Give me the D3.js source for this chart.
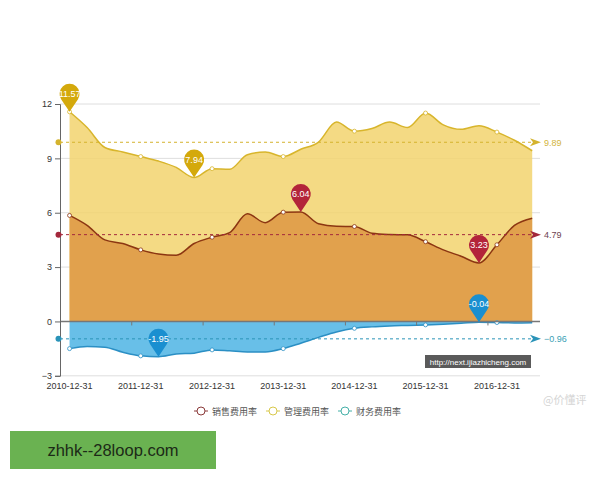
<!DOCTYPE html>
<html>
<head>
<meta charset="utf-8">
<script src="https://cdn.jsdelivr.net/npm/d3@7"></script>
<style>
    body { margin: 0; background: #fff; }
    svg { display: block; font-family: "Liberation Sans", Arial, sans-serif; }
</style>
</head>
<body>
<div id="chart"></div>
<script>

// quarterly report dates
const quarters = [
    "2010-12-31", "2011-03-31", "2011-06-30", "2011-09-30",
    "2011-12-31", "2012-03-31", "2012-06-30", "2012-09-30",
    "2012-12-31", "2013-03-31", "2013-06-30", "2013-09-30",
    "2013-12-31", "2014-03-31", "2014-06-30", "2014-09-30",
    "2014-12-31", "2015-03-31", "2015-06-30", "2015-09-30",
    "2015-12-31", "2016-03-31", "2016-06-30", "2016-09-30",
    "2016-12-31", "2017-03-31", "2017-06-30"
];

// 销售费用率
const salesRate = [5.85, 5.3, 4.5, 4.3, 3.95, 3.72, 3.65, 4.3, 4.65, 4.9, 5.94, 5.45, 6.03, 6.04,
    5.39, 5.25, 5.24, 4.87, 4.8, 4.78, 4.4, 3.95, 3.6, 3.23, 4.23, 5.3, 5.7];

// 管理费用率
const mgmtRate = [11.57, 10.7, 9.6, 9.35, 9.1, 8.85, 8.5, 7.94, 8.43, 8.4, 9.2, 9.35, 9.1, 9.5,
    9.9, 11.0, 10.5, 10.65, 11.0, 10.7, 11.5, 10.85, 10.6, 10.8, 10.45, 10.0, 9.42];

// 财务费用率
const financeRate = [-1.5, -1.38, -1.42, -1.7, -1.9, -1.95, -1.8, -1.75, -1.57, -1.62, -1.68, -1.68,
    -1.5, -1.2, -0.88, -0.58, -0.38, -0.3, -0.25, -0.22, -0.19, -0.15, -0.1, -0.04, -0.06, -0.08, -0.07];

const yTicks = [-3, 0, 3, 6, 9, 12];
const yearLabels = ["2010-12-31", "2011-12-31", "2012-12-31", "2013-12-31", "2014-12-31", "2015-12-31", "2016-12-31"];

// series styles, in drawing order
const series = [
    {name: "管理费用率", values: mgmtRate, fill: "#f2d36e", opacity: 0.85, line: "#d8b52c",
        pin: "#d4a90c", avg: "#d4b32e", avgText: "#d2b43c", legend: "#d8c84a"},
    {name: "销售费用率", values: salesRate, fill: "#e1a14d", opacity: 1, line: "#8c3612",
        pin: "#b3243a", avg: "#a3283c", avgText: "#6e3f50", legend: "#8b3a3a"},
    {name: "财务费用率", values: financeRate, fill: "#68bfe8", opacity: 1, line: "#2b8fc4",
        pin: "#1a8fd0", avg: "#2a93b8", avgText: "#3a9fb5", legend: "#45b0a8"}
];
const legendOrder = ["销售费用率", "管理费用率", "财务费用率"];

const width = 600, height = 480;
const margin = {left: 60, right: 540, top: 104, bottom: 375.8};

const parse = d3.timeParse("%Y-%m-%d");

const svg = d3.select("#chart").append("svg")
    .attr("width", width)
    .attr("height", height);

// scales
const x = d3.scaleTime()
    .domain([parse("2010-11-12"), parse("2017-08-09")])
    .range([margin.left, margin.right]);
const y = d3.scaleLinear()
    .domain([-3, 12])
    .range([margin.bottom, margin.top]);

// grid lines
svg.append("g").selectAll("line")
    .data(yTicks.filter(d => d !== 0))
    .enter().append("line")
    .attr("x1", margin.left).attr("x2", margin.right)
    .attr("y1", d => y(d)).attr("y2", d => y(d))
    .attr("stroke", "#dedede")
    .attr("stroke-width", 1);

// areas + lines
series.forEach(s => {
    s.data = quarters.map((q, i) => ({date: parse(q), v: s.values[i]}));

    let area = d3.area()
        .x(d => x(d.date))
        .y0(y(0))
        .y1(d => y(d.v))
        .curve(d3.curveMonotoneX);

    let line = d3.line()
        .x(d => x(d.date))
        .y(d => y(d.v))
        .curve(d3.curveMonotoneX);

    svg.append("path")
        .datum(s.data)
        .attr("d", area)
        .attr("fill", s.fill)
        .attr("fill-opacity", s.opacity);

    svg.append("path")
        .datum(s.data)
        .attr("d", line)
        .attr("fill", "none")
        .attr("stroke", s.line)
        .attr("stroke-width", 1.5);
});

// small symbols at year ends
series.forEach(s => {
    svg.append("g").selectAll("circle")
        .data(s.data.filter((d, i) => i % 4 === 0))
        .enter().append("circle")
        .attr("cx", d => x(d.date))
        .attr("cy", d => y(d.v))
        .attr("r", 2)
        .attr("fill", "#fff")
        .attr("stroke", s.line)
        .attr("stroke-width", 0.8);
});

// zero axis line with ticks
svg.append("line")
    .attr("x1", margin.left).attr("x2", margin.right)
    .attr("y1", y(0)).attr("y2", y(0))
    .attr("stroke", "#777")
    .attr("stroke-width", 1.5);

svg.append("g").selectAll("line")
    .data(yearLabels.slice(1))
    .enter().append("line")
    .attr("x1", d => x(d3.timeDay.offset(parse(d), -46)))
    .attr("x2", d => x(d3.timeDay.offset(parse(d), -46)))
    .attr("y1", y(0)).attr("y2", y(0) + 4)
    .attr("stroke", "#777");

// y axis
let yAxis = d3.axisLeft(y).tickValues(yTicks).tickSize(5).tickPadding(3);
let yg = svg.append("g")
    .attr("transform", `translate(${margin.left},0)`)
    .call(yAxis);
yg.select(".domain").attr("stroke", "#666");
yg.selectAll(".tick line").attr("stroke", "#666");
yg.selectAll(".tick text")
    .attr("fill", "#333")
    .style("font-size", "9px")
    .style("font-family", "Liberation Sans, Arial, sans-serif");

// x labels
svg.append("g").selectAll("text")
    .data(yearLabels)
    .enter().append("text")
    .attr("x", d => x(parse(d)))
    .attr("y", 389)
    .attr("text-anchor", "middle")
    .attr("fill", "#333")
    .style("font-size", "9px")
    .text(d => d);

// average mark lines
series.forEach(s => {
    let avg = d3.mean(s.values);
    let yy = y(avg);
    let g = svg.append("g");

    g.append("line")
        .attr("x1", margin.left).attr("x2", 531)
        .attr("y1", yy).attr("y2", yy)
        .attr("stroke", s.avg)
        .attr("stroke-width", 1)
        .attr("stroke-dasharray", "3,3");

    g.append("circle")
        .attr("cx", margin.left - 1.5).attr("cy", yy)
        .attr("r", 3)
        .attr("fill", s.avg);

    g.append("path")
        .attr("d", `M530,${yy - 4} L541,${yy} L530,${yy + 4} L533,${yy} Z`)
        .attr("fill", s.avg);

    g.append("text")
        .attr("x", 544).attr("y", yy + 3.5)
        .attr("fill", s.avgText)
        .style("font-size", "9px")
        .text(d3.format(".2f")(avg));
});

// pins at max / min
const pinPath = "M0,0 L-8.3,-12.4 A10,10 0 1,1 8.3,-12.4 Z";
series.forEach(s => {
    let ext = [d3.maxIndex(s.values), d3.minIndex(s.values)];
    let g = svg.append("g").selectAll("g")
        .data(ext)
        .enter().append("g")
        .attr("transform", i => `translate(${x(s.data[i].date)},${y(s.values[i])})`);

    g.append("path")
        .attr("d", pinPath)
        .attr("fill", s.pin);

    g.append("text")
        .attr("x", 0).attr("y", -15)
        .attr("text-anchor", "middle")
        .attr("fill", "#fff")
        .style("font-size", "9px")
        .text(i => s.values[i].toFixed(2));
});

// site watermark box
svg.append("rect")
    .attr("x", 425).attr("y", 355)
    .attr("width", 106).attr("height", 13)
    .attr("fill", "#5a5a5a");
svg.append("text")
    .attr("x", 478).attr("y", 364.5)
    .attr("text-anchor", "middle")
    .attr("fill", "#fff")
    .style("font-size", "8px")
    .text("http://next.ijiazhicheng.com");

// legend
let legend = svg.append("g").selectAll("g")
    .data(legendOrder)
    .enter().append("g")
    .attr("transform", (d, i) => `translate(${201 + i * 72},411)`);

legend.append("line")
    .attr("x1", -7).attr("x2", 7)
    .attr("stroke", d => series.find(s => s.name === d).legend)
    .attr("stroke-width", 1);
legend.append("circle")
    .attr("r", 4)
    .attr("fill", "#fff")
    .attr("stroke", d => series.find(s => s.name === d).legend)
    .attr("stroke-width", 1);
legend.append("text")
    .attr("x", 11).attr("y", 3.5)
    .attr("fill", "#555")
    .style("font-size", "9px")
    .style("font-family", "Noto Sans CJK SC, sans-serif")
    .text(d => d);

// weibo watermark
svg.append("text")
    .attr("x", 543).attr("y", 404)
    .attr("fill", "#d5d5d5")
    .style("font-size", "11px")
    .style("font-family", "Noto Sans CJK SC, sans-serif")
    .text("@价懂评");

// green footer box
svg.append("rect")
    .attr("x", 10).attr("y", 431)
    .attr("width", 206).attr("height", 38)
    .attr("fill", "#6ab251");
svg.append("text")
    .attr("x", 113).attr("y", 456)
    .attr("text-anchor", "middle")
    .attr("fill", "#1c2a17")
    .style("font-size", "16.5px")
    .text("zhhk--28loop.com");

</script>
</body>
</html>
